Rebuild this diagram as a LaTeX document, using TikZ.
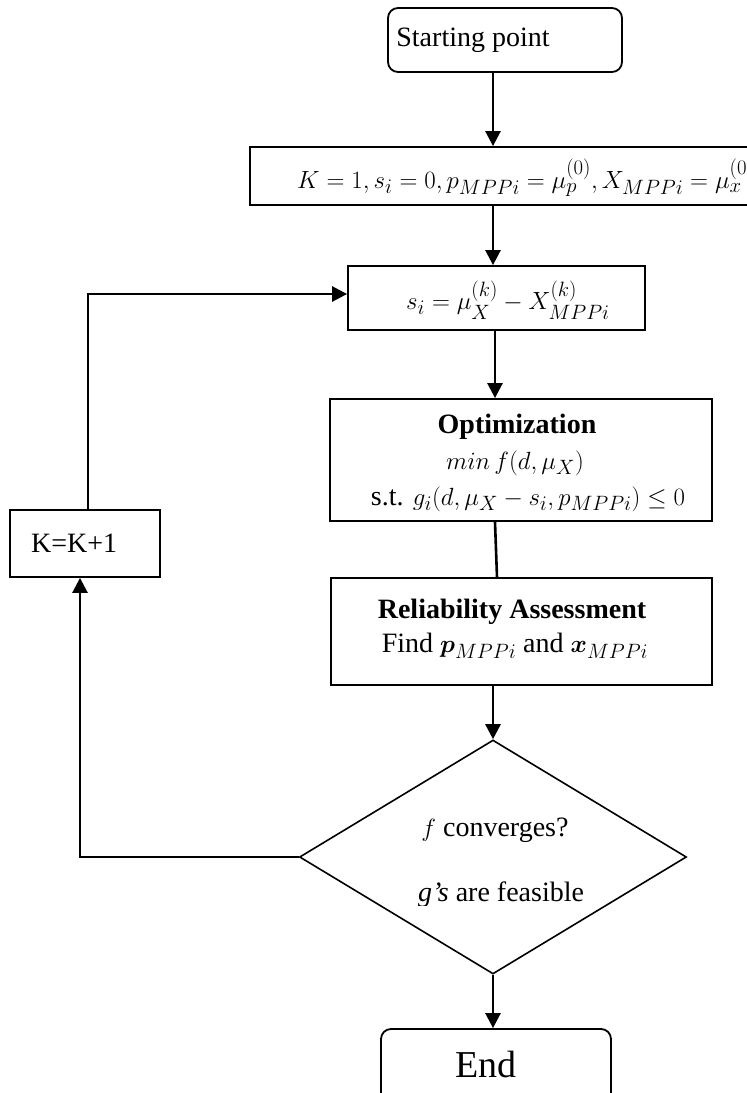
\documentclass[tikz,border=0pt]{standalone}
\usepackage{amsmath,bm}
\usepackage{fontspec}
\setmainfont{LiberationSerif}[Extension=.ttf,UprightFont=*-Regular,BoldFont=*-Bold,ItalicFont=*-Italic,BoldItalicFont=*-BoldItalic]
\usetikzlibrary{arrows.meta,shapes.geometric}
\begin{document}
\begin{tikzpicture}[x=1pt,y=-1pt,
 box/.style={draw,line width=1.8pt,inner sep=0pt},
 rbox/.style={box,rounded corners=10pt},
 dia/.style={draw,line width=1.6pt,diamond,inner sep=0pt,aspect=1.65},
 txt/.style={inner sep=0pt,font=\fontsize{28}{34}\selectfont},
 mtxt/.style={inner sep=0pt,font=\fontsize{31}{37}\selectfont},
 arr/.style={line width=2.6pt,-{Triangle[length=15pt,width=15pt]}},
 ln/.style={line width=2.6pt}]
\useasboundingbox (0,0) rectangle (747,1093);
\clip (0,0) rectangle (747,1093);
% boxes
\node[rbox,minimum width=234pt,minimum height=64pt] (start) at (505,40) {};
\node[txt] (starttxt) at (473,40) {Starting point};
\node[box,minimum width=512pt,minimum height=58pt] (init) at (506,176) {};
\node[mtxt,anchor=west] (inittxt) at (297,178) {$K=1, s_i=0, p_{MPPi}=\mu_p^{(0)}, X_{MPPi}=\mu_x^{(0)}$};
\node[box,minimum width=297pt,minimum height=64pt] (sbox) at (496.5,298) {};
\node[mtxt,anchor=west] (stxt) at (406,300) {$s_i=\mu_X^{(k)}-X_{MPPi}^{(k)}$};
\node[box,minimum width=382pt,minimum height=122pt] (opt) at (521,460) {};
\node[txt] (opt1) at (517,427) {\textbf{Optimization}};
\node[mtxt] (opt2) at (515,463) {$min\, f(d,\mu_X)$};
\node[txt] (opt3) at (528,499) {s.t. $g_i(d,\mu_X-s_i,p_{MPPi})\le 0$};
\node[box,minimum width=381pt,minimum height=107pt] (rel) at (521.5,631.5) {};
\node[txt] (rel1) at (512,612) {\textbf{Reliability Assessment}};
\node[txt] (rel2) at (515,646) {Find $\bm{p}_{MPPi}$ and $\bm{x}_{MPPi}$};
\node[dia,minimum width=387pt,minimum height=234pt] (dec) at (493,857) {};
\node[txt] (dec1) at (495,830) {$f$ converges?};
\begin{scope}
\clip (400,870) rectangle (588,905);
\node[txt,anchor=west] (dec2) at (418,895) {\textit{g's} are feasible};
\end{scope}
\node[box,minimum width=150pt,minimum height=67pt] (kbox) at (85,543.5) {};
\node[txt,anchor=west] (ktxt) at (31,543) {K=K+1};
\node[rbox,minimum width=230pt,minimum height=90pt] (end) at (496,1074) {};
\node[inner sep=0pt,font=\fontsize{38}{44}\selectfont] (endtxt) at (486,1064) {End};
% connectors
\draw[arr] (start.south -| dec.north) -- (init.north -| dec.north);
\draw[arr] (init.south -| dec.north) -- (sbox.north -| dec.north);
\draw[arr] (sbox.south -| 495,0) -- (opt.north -| 495,0);
\draw[ln] (opt.south -| 495,0) -- (rel.north -| 497,0);
\draw[arr] (rel.south -| dec.north) -- (dec.north);
\draw[arr] (dec.south) -- (end.north -| dec.south);
\draw[arr] (dec.west) -| (kbox.south -| 80,0);
\draw[arr] (kbox.north -| 88,0) |- (sbox.west |- 0,294);
\end{tikzpicture}
\end{document}
